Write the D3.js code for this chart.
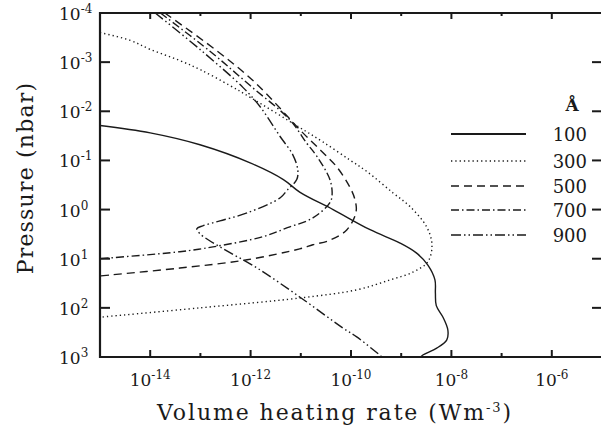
<!DOCTYPE html>
<html>
<head>
<meta charset="utf-8">
<script src="https://cdn.jsdelivr.net/npm/d3@7"></script>
<style>
  body { margin: 0; background: #fff; }
  svg text { font-family: "DejaVu Serif", serif; fill: #1a1a1a; }
</style>
</head>
<body>
<svg id="chart" width="601" height="426"></svg>
<script>
// wavelengths (Å) shown in the legend
const waves = ["100", "300", "500", "700", "900"];

// [heating rate (W m^-3), pressure (nbar)]
const curve100 = [
  [1e-15, 0.0195], [1e-14, 0.0275], [9.8e-14, 0.048], [9.8e-13, 0.112],
  [4.5e-12, 0.245], [9.5e-12, 0.44], [4.4e-11, 1.0], [2.4e-10, 2.57],
  [9.5e-10, 4.8], [2.0e-9, 7.6], [3.4e-9, 13.5], [4.7e-9, 27],
  [4.8e-9, 50], [5.0e-9, 90], [6.8e-9, 155], [8.5e-9, 282],
  [8.1e-9, 447], [5.1e-9, 661], [2.7e-9, 912], [2.3e-9, 1047]
];
const curve300 = [
  [1e-15, 2.5e-4], [4.0e-15, 3.6e-4], [1e-14, 5.5e-4], [3.9e-14, 9.3e-4],
  [9.8e-14, 1.41e-3], [3.9e-13, 3.0e-3], [9.8e-13, 5.2e-3], [9.5e-12, 0.0214],
  [2.75e-11, 0.042], [9.5e-11, 0.098], [2.1e-10, 0.17], [6.9e-10, 0.46],
  [1.5e-9, 0.87], [3.2e-9, 2.24], [4.1e-9, 5.2], [3.4e-9, 11.5],
  [1.74e-9, 18.6], [6.0e-10, 27], [1.3e-10, 43], [9.5e-12, 63],
  [9.8e-14, 100], [1e-15, 155]
];
const curve500 = [
  [1.95e-14, 1e-4], [1.95e-13, 5.5e-4], [1.23e-12, 2.6e-3], [1.1e-11, 0.0275],
  [2.75e-11, 0.069], [5.2e-11, 0.135], [9.5e-11, 0.35], [1.2e-10, 0.63],
  [1.26e-10, 1.12], [8.3e-11, 2.57], [3.8e-11, 4.2], [1.74e-11, 5.2],
  [9.5e-12, 6.3], [8.5e-13, 10.5], [3.9e-14, 15.5], [1e-15, 22.4]
];
const curve700 = [
  [1.6e-14, 1e-4], [1.55e-13, 6.0e-4], [9.8e-13, 3.0e-3], [6.0e-12, 0.0148],
  [1.3e-11, 0.044], [2.1e-11, 0.083], [3.8e-11, 0.245], [4.2e-11, 0.50],
  [3.8e-11, 0.72], [1.74e-11, 1.48], [5.4e-12, 2.34], [1.78e-12, 3.55],
  [1.78e-13, 5.75], [3.9e-14, 7.2], [1e-15, 10]
];
const curve900 = [
  [1.26e-14, 1e-4], [9.8e-14, 5.5e-4], [7.1e-13, 3.3e-3], [1.55e-12, 8.1e-3],
  [3.9e-12, 0.033], [6.9e-12, 0.076], [8.7e-12, 0.155], [8.3e-12, 0.245],
  [5.4e-12, 0.40], [3.9e-12, 0.575], [8.5e-13, 1.17], [2.45e-13, 1.7],
  [1.12e-13, 2.14], [8.5e-14, 2.45], [9.8e-14, 3.1], [2.45e-13, 5.75],
  [1.35e-12, 15.5], [9.5e-12, 60], [6.9e-11, 257], [1.3e-10, 389],
  [4.4e-10, 1047]
];

// tick exponents
const xTickExps = [-14, -13, -12, -11, -10, -9, -8, -7, -6];
const xLabelExps = [-14, -12, -10, -8, -6];
const yTickExps = [-4, -3, -2, -1, 0, 1, 2, 3];
const rightTickExps = [-3, -2, -1, 0, 1, 2];

const curves = [curve100, curve300, curve500, curve700, curve900];
const dashes = [null, "1.3,3", "8,5", "8,3,1.5,3", "10,3,1.5,3,1.5,3"];

const svg = d3.select("#chart");
const mLeft = 100, mRight = 602, mTop = 13, mBottom = 357;

const x = d3.scaleLog().domain([1e-15, 1e-5]).range([mLeft, mRight]);
const y = d3.scaleLog().domain([1e-4, 1e3]).range([mTop, mBottom]);

svg.append("defs").append("clipPath").attr("id", "plot")
  .append("rect")
  .attr("x", mLeft).attr("y", mTop)
  .attr("width", mRight - mLeft).attr("height", mBottom - mTop);

// courbes
const line = d3.line()
  .x(d => x(d[0]))
  .y(d => y(d[1]))
  .curve(d3.curveCatmullRom);

const g = svg.append("g").attr("clip-path", "url(#plot)");
curves.forEach((c, i) => {
  g.append("path")
    .datum(c)
    .attr("d", line)
    .attr("fill", "none")
    .attr("stroke", "#1a1a1a")
    .attr("stroke-width", 1.4)
    .attr("stroke-dasharray", dashes[i]);
});

// cadre
svg.append("path")
  .attr("d", `M${mRight},${mTop}H${mLeft}V${mBottom}H${mRight}`)
  .attr("fill", "none")
  .attr("stroke", "#1a1a1a")
  .attr("stroke-width", 2.2);

// graduations x (haut et bas)
xTickExps.forEach(e => {
  const xx = x(Math.pow(10, e));
  const len = e % 2 === 0 ? 7 : 4;
  svg.append("line").attr("x1", xx).attr("x2", xx)
    .attr("y1", mBottom).attr("y2", mBottom - len)
    .attr("stroke", "#1a1a1a").attr("stroke-width", 2);
  svg.append("line").attr("x1", xx).attr("x2", xx)
    .attr("y1", mTop).attr("y2", mTop + len - 1)
    .attr("stroke", "#1a1a1a").attr("stroke-width", 2);
});

xLabelExps.forEach(e => {
  const t = svg.append("text")
    .attr("x", x(Math.pow(10, e)))
    .attr("y", 386)
    .attr("text-anchor", "middle")
    .attr("font-size", 17);
  t.append("tspan").text("10");
  t.append("tspan").attr("dy", -7).attr("font-size", 12).text("-" + Math.abs(e));
});

// graduations y
yTickExps.forEach(e => {
  const yy = y(Math.pow(10, e));
  if (e > -4) {
    svg.append("line").attr("x1", mLeft).attr("x2", mLeft + 10)
      .attr("y1", yy).attr("y2", yy)
      .attr("stroke", "#1a1a1a").attr("stroke-width", 2);
  }
  const t = svg.append("text")
    .attr("x", 59)
    .attr("y", yy + 7)
    .attr("font-size", 17);
  t.append("tspan").text("10");
  t.append("tspan").attr("dy", -7).attr("font-size", 12)
    .text(e < 0 ? "-" + Math.abs(e) : String(e));
});

rightTickExps.forEach(e => {
  const yy = y(Math.pow(10, e));
  svg.append("line").attr("x1", 592).attr("x2", 601)
    .attr("y1", yy).attr("y2", yy)
    .attr("stroke", "#1a1a1a").attr("stroke-width", 2);
});

// titres des axes
const xt = svg.append("text")
  .attr("x", 335).attr("y", 420)
  .attr("text-anchor", "middle")
  .attr("font-size", 22)
  .attr("letter-spacing", 1.9);
xt.append("tspan").text("Volume heating rate (Wm");
xt.append("tspan").attr("dy", -8).attr("font-size", 13).text("-3");
xt.append("tspan").attr("dy", 8).text(")");

svg.append("text")
  .attr("transform", "translate(33,178) rotate(-90)")
  .attr("text-anchor", "middle")
  .attr("font-size", 22)
  .attr("letter-spacing", 1.2)
  .text("Pressure (nbar)");

// légende
svg.append("text")
  .attr("x", 572).attr("y", 111)
  .attr("text-anchor", "middle")
  .attr("font-size", 17)
  .attr("font-weight", "bold")
  .text("Å");

const legendY = [134, 161, 186, 210, 235];
waves.forEach((w, i) => {
  svg.append("line")
    .attr("x1", 451).attr("x2", 526)
    .attr("y1", legendY[i]).attr("y2", legendY[i])
    .attr("stroke", "#1a1a1a")
    .attr("stroke-width", i === 0 ? 2 : 1.5)
    .attr("stroke-dasharray", dashes[i]);
  svg.append("text")
    .attr("x", 587).attr("y", legendY[i] + 6.5)
    .attr("text-anchor", "end")
    .attr("font-size", 18)
    .text(w);
});
</script>
</body>
</html>
